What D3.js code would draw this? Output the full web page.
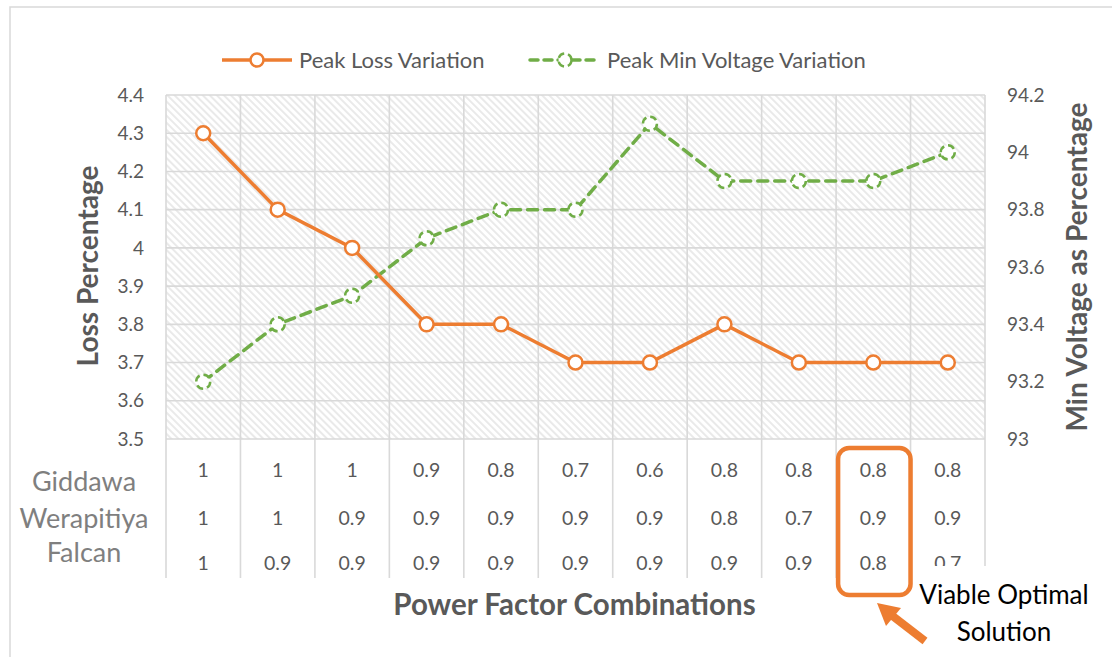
<!DOCTYPE html>
<html>
<head>
<meta charset="utf-8">
<script src="https://cdn.jsdelivr.net/npm/d3@7"></script>
<style>
  body { margin: 0; background: #fff; }
  text { font-family: Lato, "Open Sans", sans-serif; }
</style>
</head>
<body>
<div id="chart"></div>
<script>
// data
var combos = [0, 1, 2, 3, 4, 5, 6, 7, 8, 9, 10];
var giddawa = [1, 1, 1, 0.9, 0.8, 0.7, 0.6, 0.8, 0.8, 0.8, 0.8];
var werapitiya = [1, 1, 0.9, 0.9, 0.9, 0.9, 0.9, 0.8, 0.7, 0.9, 0.9];
var falcan = [1, 0.9, 0.9, 0.9, 0.9, 0.9, 0.9, 0.9, 0.9, 0.8, 0.7];
var rowNames = ["Giddawa", "Werapitiya", "Falcan"];
var peakLoss = [4.3, 4.1, 4.0, 3.8, 3.8, 3.7, 3.7, 3.8, 3.7, 3.7, 3.7];
var peakMinVoltage = [93.2, 93.4, 93.5, 93.7, 93.8, 93.8, 94.1, 93.9, 93.9, 93.9, 94.0];
var lossTicks = [3.5, 3.6, 3.7, 3.8, 3.9, 4.0, 4.1, 4.2, 4.3, 4.4];
var voltTicks = [93, 93.2, 93.4, 93.6, 93.8, 94, 94.2];
var optimalIndex = 9;

var width = 1112, height = 657;
var plotL = 166, plotR = 985, plotT = 95, plotB = 439;
var orange = "#ED7D31", green = "#70AD47", grid = "#d9d9d9", txt = "#595959";

var svg = d3.select("#chart").append("svg")
    .attr("width", width)
    .attr("height", height);

// hatch pattern for plot area (wide downward diagonal)
var defs = svg.append("defs");
defs.append("pattern")
    .attr("id", "hatch")
    .attr("patternUnits", "userSpaceOnUse")
    .attr("width", 5).attr("height", 5)
    .attr("patternTransform", "rotate(-45)")
    .append("line")
    .attr("x1", 1).attr("y1", 0).attr("x2", 1).attr("y2", 5)
    .attr("stroke", "#dedede").attr("stroke-width", 1.3);

// outer chart border
svg.append("rect")
    .attr("x", 10).attr("y", 7)
    .attr("width", 1200).attr("height", 800)
    .attr("fill", "none").attr("stroke", grid).attr("stroke-width", 1.5);

var x = d3.scaleBand().domain(combos).range([plotL, plotR]);
var yLoss = d3.scaleLinear().domain([3.5, 4.4]).range([plotB, plotT]);
var yVolt = d3.scaleLinear().domain([93, 94.2]).range([plotB, plotT]);

svg.append("rect")
    .attr("x", plotL).attr("y", plotT)
    .attr("width", plotR - plotL).attr("height", plotB - plotT)
    .attr("fill", "url(#hatch)");

// horizontal gridlines
svg.selectAll(".hgrid").data(lossTicks).enter().append("line")
    .attr("x1", plotL).attr("x2", plotR)
    .attr("y1", function (d) { return yLoss(d); })
    .attr("y2", function (d) { return yLoss(d); })
    .attr("stroke", grid).attr("stroke-width", 1.6);

// vertical gridlines, running down through the category table
var edges = combos.map(function (d) { return x(d); }).concat([plotR]);
svg.selectAll(".vgrid").data(edges).enter().append("line")
    .attr("x1", function (d) { return d; })
    .attr("x2", function (d) { return d; })
    .attr("y1", plotT).attr("y2", 578)
    .attr("stroke", grid).attr("stroke-width", 1.6);

// left axis labels
svg.selectAll(".ltick").data(lossTicks).enter().append("text")
    .attr("x", 144)
    .attr("y", function (d) { return yLoss(d); })
    .attr("dy", "0.35em")
    .attr("text-anchor", "end")
    .attr("font-size", 19).attr("fill", txt)
    .text(function (d) { return +d.toFixed(1); });

// right axis labels
svg.selectAll(".rtick").data(voltTicks).enter().append("text")
    .attr("x", 1007)
    .attr("y", function (d) { return yVolt(d); })
    .attr("dy", "0.35em")
    .attr("font-size", 19).attr("fill", txt)
    .text(function (d) { return +d.toFixed(1); });

// axis titles
svg.append("text")
    .attr("transform", "translate(98," + ((plotT + plotB) / 2 - 1) + ") rotate(-90)")
    .attr("text-anchor", "middle")
    .attr("font-size", 28).attr("font-weight", "bold").attr("fill", txt)
    .text("Loss Percentage");

svg.append("text")
    .attr("transform", "translate(1087," + ((plotT + plotB) / 2) + ") rotate(-90)")
    .attr("text-anchor", "middle")
    .attr("font-size", 28).attr("font-weight", "bold").attr("fill", txt)
    .text("Min Voltage as Percentage");

svg.append("text")
    .attr("x", (plotL + plotR) / 2 - 1).attr("y", 615)
    .attr("text-anchor", "middle")
    .attr("font-size", 29.5).attr("font-weight", "bold").attr("fill", txt)
    .text("Power Factor Combinations");

// category table
var rows = [giddawa, werapitiya, falcan];
var rowY = [470, 518, 563];
var nameY = [482, 519, 553];
rows.forEach(function (row, r) {
    svg.selectAll(".cell" + r).data(row).enter().append("text")
        .attr("x", function (d, i) { return x(i) + x.bandwidth() / 2; })
        .attr("y", rowY[r])
        .attr("dy", "0.35em")
        .attr("text-anchor", "middle")
        .attr("font-size", 19.5).attr("fill", txt)
        .text(function (d) { return d; });
    svg.append("text")
        .attr("x", 84).attr("y", nameY[r])
        .attr("dy", "0.35em")
        .attr("text-anchor", "middle")
        .attr("font-size", 27).attr("fill", "#7f7f7f")
        .text(rowNames[r]);
});

// lines
var lossLine = d3.line()
    .x(function (d, i) { return x(i) + x.bandwidth() / 2; })
    .y(function (d) { return yLoss(d); });
var voltLine = d3.line()
    .x(function (d, i) { return x(i) + x.bandwidth() / 2; })
    .y(function (d) { return yVolt(d); });

svg.append("path").datum(peakMinVoltage)
    .attr("d", voltLine)
    .attr("fill", "none").attr("stroke", green)
    .attr("stroke-width", 3.5).attr("stroke-dasharray", "10,7")
    .attr("stroke-linecap", "round");

svg.selectAll(".vdot").data(peakMinVoltage).enter().append("circle")
    .attr("cx", function (d, i) { return x(i) + x.bandwidth() / 2; })
    .attr("cy", function (d) { return yVolt(d); })
    .attr("r", 7)
    .attr("fill", "#fff").attr("stroke", green)
    .attr("stroke-width", 2.5).attr("stroke-dasharray", "7,4");

svg.append("path").datum(peakLoss)
    .attr("d", lossLine)
    .attr("fill", "none").attr("stroke", orange)
    .attr("stroke-width", 3.5);

svg.selectAll(".ldot").data(peakLoss).enter().append("circle")
    .attr("cx", function (d, i) { return x(i) + x.bandwidth() / 2; })
    .attr("cy", function (d) { return yLoss(d); })
    .attr("r", 7)
    .attr("fill", "#fff").attr("stroke", orange).attr("stroke-width", 2.5);

// legend
var lg = svg.append("g").attr("transform", "translate(0,60)");
lg.append("line").attr("x1", 222).attr("x2", 292)
    .attr("stroke", orange).attr("stroke-width", 3.5);
lg.append("circle").attr("cx", 257).attr("r", 6.5)
    .attr("fill", "#fff").attr("stroke", orange).attr("stroke-width", 2.5);
lg.append("text").attr("x", 299).attr("dy", "0.35em")
    .attr("font-size", 22).attr("fill", txt).text("Peak Loss Variation");
lg.append("line").attr("x1", 530).attr("x2", 600)
    .attr("stroke", green).attr("stroke-width", 3.5)
    .attr("stroke-dasharray", "8,6").attr("stroke-linecap", "round");
lg.append("circle").attr("cx", 565).attr("r", 6.5)
    .attr("fill", "#fff").attr("stroke", green)
    .attr("stroke-width", 2.5).attr("stroke-dasharray", "7,4");
lg.append("text").attr("x", 607).attr("dy", "0.35em")
    .attr("font-size", 22).attr("fill", txt).text("Peak Min Voltage Variation");

// annotation: text box (white fill hides the cut cell), highlight box, arrow
svg.append("rect")
    .attr("x", 912).attr("y", 566).attr("width", 200).attr("height", 100)
    .attr("fill", "#fff");
svg.append("text").attr("x", 1004).attr("y", 595).attr("dy", "0.35em")
    .attr("text-anchor", "middle").attr("font-size", 26).attr("fill", "#000")
    .text("Viable Optimal");
svg.append("text").attr("x", 1004).attr("y", 632).attr("dy", "0.35em")
    .attr("text-anchor", "middle").attr("font-size", 26).attr("fill", "#000")
    .text("Solution");

svg.append("rect")
    .attr("x", x(optimalIndex) + 2).attr("y", 448)
    .attr("width", x.bandwidth() - 2).attr("height", 147)
    .attr("rx", 11)
    .attr("fill", "none").attr("stroke", orange).attr("stroke-width", 4.5);

svg.append("line")
    .attr("x1", 925).attr("y1", 641).attr("x2", 890).attr("y2", 614)
    .attr("stroke", orange).attr("stroke-width", 8);
svg.append("path")
    .attr("d", "M877,603 L901,608 L886,626 Z")
    .attr("fill", orange);
</script>
</body>
</html>
